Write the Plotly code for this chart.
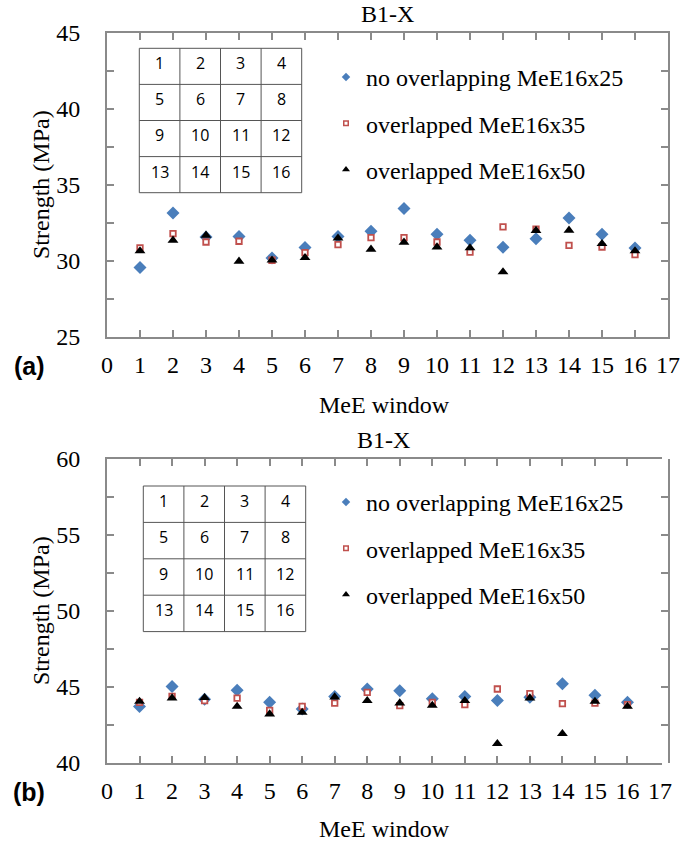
import plotly.graph_objects as go

# MeE window index (1..16) and measured strengths (MPa)
windows = list(range(1, 17))

a_nolap_16x25 = [29.57, 33.16, 31.58, 31.62, 30.20, 30.88, 31.62, 31.95,
                 33.45, 31.76, 31.36, 30.90, 31.47, 32.83, 31.76, 30.86]
a_lap_16x35 = [30.86, 31.80, 31.25, 31.30, 30.05, 30.55, 31.08, 31.54,
               31.54, 31.25, 30.59, 32.24, 32.09, 31.03, 30.92, 30.42]
a_lap_16x50 = [30.66, 31.36, 31.69, 29.98, 30.05, 30.22, 31.50, 30.77,
               31.23, 30.92, 30.86, 29.28, 32.00, 32.02, 31.14, 30.66]

b_nolap_16x25 = [43.72, 45.04, 44.20, 44.78, 44.00, 43.55, 44.38, 44.87,
                 44.75, 44.23, 44.38, 44.12, 44.32, 45.22, 44.45, 43.99]
b_lap_16x35 = [43.99, 44.38, 44.10, 44.27, 43.46, 43.72, 43.94, 44.65,
               43.77, 43.99, 43.84, 44.87, 44.56, 43.90, 43.94, 43.84]
b_lap_16x50 = [44.05, 44.27, 44.30, 43.72, 43.22, 43.33, 44.34, 44.10,
               43.94, 43.79, 44.10, 41.27, 44.27, 41.93, 44.05, 43.72]

series_names = ["no overlapping MeE16x25", "overlapped MeE16x35", "overlapped MeE16x50"]
x_ticks = list(range(0, 18))
a_yticks = [25, 27.5, 30, 32.5, 35, 37.5, 40, 42.5, 45]
b_yticks = [40, 42.5, 45, 47.5, 50, 52.5, 55, 57.5, 60]
grid_labels = [[1, 2, 3, 4], [5, 6, 7, 8], [9, 10, 11, 12], [13, 14, 15, 16]]

W, H = 681, 843
SERIF = "Liberation Serif, Times New Roman, serif"
AXIS_GRAY = "#8a8a8a"
FS = 24


def px(x):
    return x / W


def py(y):
    return 1 - y / H


styles = [
    dict(symbol="diamond", size=10, color="#4a7ebb", line=dict(width=0)),
    dict(symbol="square", size=5.5, color="white", line=dict(color="#c0504d", width=1.8)),
    dict(symbol="triangle-up", size=9.5, color="black", line=dict(width=0)),
]
legend_styles = [
    dict(symbol="diamond", size=6.5, color="#4a7ebb", line=dict(width=0)),
    dict(symbol="square", size=4.5, color="white", line=dict(color="#c0504d", width=1.5)),
    dict(symbol="triangle-up", size=7, color="black", line=dict(width=0)),
]

fig = go.Figure()

panels = [
    dict(xa="x", ya="y", leg="legend", data=[a_nolap_16x25, a_lap_16x35, a_lap_16x50]),
    dict(xa="x2", ya="y2", leg="legend2", data=[b_nolap_16x25, b_lap_16x35, b_lap_16x50]),
]

for p in panels:
    for name, vals, st in zip(series_names, p["data"], styles):
        fig.add_trace(go.Scatter(x=windows, y=vals, mode="markers", name=name,
                                 marker=st, xaxis=p["xa"], yaxis=p["ya"],
                                 showlegend=False, hoverinfo="x+y"))
    # legend-only entries with smaller symbols
    for i, (name, st) in enumerate(zip(series_names, legend_styles)):
        fig.add_trace(go.Scatter(x=[None], y=[None], mode="markers", name=name,
                                 marker=st, xaxis=p["xa"], yaxis=p["ya"],
                                 legend=p["leg"], legendgroup=f"{p['leg']}_{i}",
                                 showlegend=True))


def yaxis_cfg(ticks, domain):
    return dict(domain=domain, range=[ticks[0], ticks[-1]], tickvals=ticks,
                ticktext=[("%g" % t) if t % 5 == 0 else "" for t in ticks],
                ticks="inside", ticklen=7, tickwidth=1.5, tickcolor=AXIS_GRAY,
                showline=True, linecolor=AXIS_GRAY, linewidth=2, mirror="allticks",
                showgrid=False, zeroline=False, ticklabelstandoff=20,
                tickfont=dict(family=SERIF, size=FS, color="black"))


def xaxis_cfg(domain, anchor):
    return dict(domain=domain, range=[0, 17], tickvals=x_ticks,
                ticktext=[str(t) for t in x_ticks], anchor=anchor,
                ticks="inside", ticklen=7, tickwidth=1.5, tickcolor=AXIS_GRAY,
                showline=True, linecolor=AXIS_GRAY, linewidth=2, mirror="allticks",
                showgrid=False, zeroline=False, ticklabelstandoff=5,
                tickfont=dict(family=SERIF, size=FS, color="black"))


legend_common = dict(xanchor="left", yanchor="top", bgcolor="rgba(0,0,0,0)",
                     tracegroupgap=12, itemwidth=30,
                     font=dict(family=SERIF, size=FS, color="black"))

fig.update_layout(
    width=W, height=H, margin=dict(l=0, r=0, t=0, b=0, autoexpand=False),
    paper_bgcolor="white", plot_bgcolor="white",
    xaxis=xaxis_cfg([px(107), px(668)], "y"),
    yaxis=yaxis_cfg(a_yticks, [py(337), py(33)]),
    xaxis2=xaxis_cfg([px(107), px(660)], "y2"),
    yaxis2=yaxis_cfg(b_yticks, [py(763), py(459)]),
    legend=dict(x=px(326), y=py(55), **legend_common),
    legend2=dict(x=px(326), y=py(480), **legend_common),
)

annotations = []
shapes = []


def label(text, x, y, size=FS, family=SERIF, angle=0):
    annotations.append(dict(text=text, x=px(x), y=py(y), xref="paper", yref="paper",
                            xanchor="center", yanchor="middle", showarrow=False,
                            textangle=angle,
                            font=dict(family=family, size=size, color="black")))


# panel titles, axis titles and panel letters
for title_x, title_y, xlab_y, ylab_y, letter, letter_y in [
    (387, 14, 405, 185, "(a)", 366),
    (383, 440, 829, 611, "(b)", 792),
]:
    label("B1-X", title_x, title_y)
    label("MeE window", 384, xlab_y)
    label("Strength (MPa)", 41, ylab_y, angle=-90)
    label("<b>" + letter + "</b>", 29, letter_y, size=25,
          family="Liberation Sans, Arial, sans-serif")

# 4x4 window layout inset
for left, top, cw, ch in [(139.3, 48.3, 40.6, 36.1), (143.3, 486, 40.6, 36.4)]:
    for k in range(5):
        shapes.append(dict(type="line", xref="paper", yref="paper",
                           x0=px(left + k * cw), x1=px(left + k * cw),
                           y0=py(top), y1=py(top + 4 * ch),
                           line=dict(color="#555555", width=1)))
        shapes.append(dict(type="line", xref="paper", yref="paper",
                           x0=px(left), x1=px(left + 4 * cw),
                           y0=py(top + k * ch), y1=py(top + k * ch),
                           line=dict(color="#555555", width=1)))
    for r, row in enumerate(grid_labels):
        for c, lab in enumerate(row):
            label(str(lab), left + (c + 0.5) * cw, top + r * ch + 15, size=16,
                  family="Open Sans, sans-serif")

fig.update_layout(annotations=annotations, shapes=shapes)

fig.write_html("out.html")
